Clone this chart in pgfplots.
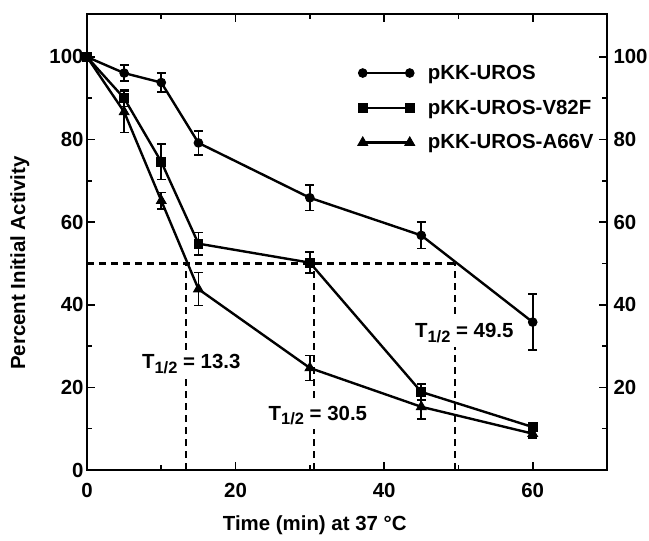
\documentclass[border=0pt]{standalone}
\usepackage{fontspec}
\setmainfont{Liberation Sans}
\usepackage{pgfplots}
\pgfplotsset{compat=1.18}
\newcommand{\bigbf}{\fontsize{20.5}{24}\selectfont\bfseries}
\newcommand{\thalf}{T\raisebox{-0.45ex}{\fontsize{16.5}{18}\selectfont 1/2}}
\pgfplotsset{
  series/.style={
    black, line width=2.4bp, mark options={solid, fill=black, line width=1bp},
    error bars/y dir=both, error bars/y explicit,
    error bars/error bar style={line width=1.7bp},
    error bars/error mark options={rotate=90, mark size=4.5bp, line width=1.7bp}
  },
  guide/.style={black, line width=2.1bp, dash pattern=on 7bp off 5bp, forget plot},
}
\tikzset{half/.style={font=\bigbf, fill=white, anchor=west, inner sep=4bp}}
\begin{document}
\begin{tikzpicture}
\begin{axis}[
  name=main,
  scale only axis, width=520bp, height=456bp,
  xmin=0, xmax=70, ymin=0, ymax=110.4,
  xtick={0,20,40,60}, minor xtick={10,30,50,70},
  ytick={0,20,...,100}, minor ytick={10,30,...,90},
  tick align=inside, major tick length=8bp, minor tick length=5bp,
  axis line style={line width=2.4bp},
  every tick/.style={black, line width=1.6bp},
  tick label style={font=\bigbf},
  /pgf/number format/assume math mode=true,
  xticklabel style={yshift=-10bp},
  xlabel={Time (min) at 37 °C},
  ylabel={Percent Initial Activity},
  label style={font=\bigbf},
  xlabel style={at={(axis description cs:0.438,-0.121)}, anchor=center},
  ylabel style={at={(axis description cs:-0.129,0.454)}, anchor=center},
  legend style={at={(axis description cs:0.515,0.897)}, anchor=north west,
    draw=none, fill=none, font=\fontsize{20.5}{23}\selectfont\bfseries,
    row sep=15bp},
  legend cell align=left,
  legend image code/.code={\draw[#1] plot coordinates {(0bp,0bp) (47bp,0bp)};
    \path (62bp,0bp);},
]
% half-life guides
\addplot[guide] coordinates {(0,50) (49.5,50)};
\addplot[guide] coordinates {(13.3,0) (13.3,50)};
\addplot[guide] coordinates {(30.5,0) (30.5,50)};
\addplot[guide] coordinates {(49.5,0) (49.5,50)};

\node[half] at (axis cs:6.85,25.7) {\thalf{} = 13.3};
\node[half] at (axis cs:23.9,13.2) {\thalf{} = 30.5};
\node[half] at (axis cs:43.6,33.2) {\thalf{} = 49.5};

\addplot[series, mark=*, mark size=4.3bp] coordinates {
  (0,100) +- (0,0)
  (5,96.1) +- (0,2.0)
  (10,93.8) +- (0,2.3)
  (15,79.2) +- (0,2.9)
  (30,65.9) +- (0,3.1)
  (45,56.8) +- (0,3.2)
  (60,35.8) +- (0,6.8)
};
\addlegendentry{pKK-UROS}
\addplot[series, mark=square*, mark size=4.4bp] coordinates {
  (0,100) +- (0,0)
  (5,90.0) +- (0,2.0)
  (10,74.6) +- (0,4.3)
  (15,54.8) +- (0,2.7)
  (30,50.2) +- (0,2.5)
  (45,18.9) +- (0,2.0)
  (60,10.4) +- (0,1.0)
};
\addlegendentry{pKK-UROS-V82F}
\addplot[series, mark=triangle*, mark size=5.5bp] coordinates {
  (0,100) +- (0,0)
  (5,86.7) +- (0,5.0)
  (10,65.2) +- (0,2.0)
  (15,43.8) +- (0,4.0)
  (30,24.7) +- (0,3.0)
  (45,15.3) +- (0,3.0)
  (60,8.8) +- (0,1.0)
};
\addlegendentry{pKK-UROS-A66V}
\end{axis}
% right-hand tick labels
\begin{axis}[
  scale only axis, width=520bp, height=456bp,
  at={(main.south west)}, anchor=south west,
  xmin=0, xmax=70, ymin=0, ymax=110.4,
  hide x axis, axis y line*=right,
  axis line style={draw=none},
  ytick={20,40,...,100}, ytick style={draw=none},
  yticklabel style={font=\bigbf, xshift=3bp},
  /pgf/number format/assume math mode=true,
]
\end{axis}
\pgfresetboundingbox
\path[use as bounding box] (main.south west) ++(-87bp,-71bp) rectangle ++(649bp,541bp);
\end{tikzpicture}
\end{document}
